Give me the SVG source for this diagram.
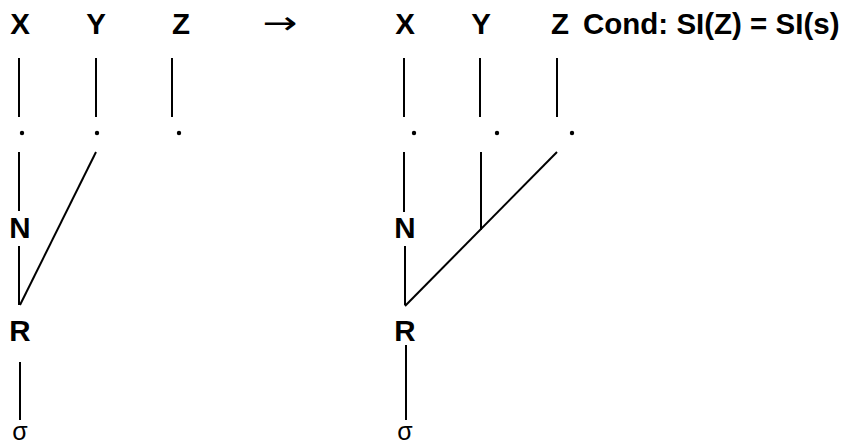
<svg xmlns="http://www.w3.org/2000/svg" width="852" height="446" viewBox="0 0 852 446">
<style>
.lbl{font-family:"Liberation Sans",Arial,sans-serif;font-weight:bold;font-size:29.5px;fill:#000;text-anchor:middle}
.sig{font-family:"Liberation Sans",Arial,sans-serif;font-size:25px;fill:#000;text-anchor:middle}
.arr{font-family:"DejaVu Sans",sans-serif;font-size:32px;fill:#000;text-anchor:middle}
.ln{stroke:#000;stroke-width:2;fill:none}
.dot{fill:#000}
</style>
<rect width="852" height="446" fill="#fff"/>
<g id="left">
  <g id="lX"><text class="lbl" x="20" y="34">X</text></g>
  <g id="lY"><text class="lbl" x="96" y="34">Y</text></g>
  <g id="lZ"><text class="lbl" x="181" y="34">Z</text></g>
  <g id="lN"><text class="lbl" x="20" y="238">N</text></g>
  <g id="lR"><text class="lbl" x="20" y="341">R</text></g>
  <g id="lS"><text class="sig" x="20" y="440">σ</text></g>
  <g id="ldots">
    <circle class="dot" cx="22" cy="133" r="2.2"/>
    <circle class="dot" cx="97" cy="133" r="2.2"/>
    <circle class="dot" cx="179" cy="133" r="2.2"/>
  </g>
</g>
<g id="arrow"><text class="arr" x="0" y="0" transform="translate(280,34) scale(1.3,1)">→</text></g>
<g id="right">
  <g id="rX"><text class="lbl" x="405" y="34">X</text></g>
  <g id="rY"><text class="lbl" x="481" y="34">Y</text></g>
  <g id="rZ"><text class="lbl" x="560" y="34">Z</text></g>
  <g id="cond"><text class="lbl" x="583" y="34" style="text-anchor:start">Cond: SI(Z) = SI(s)</text></g>
  <g id="rN"><text class="lbl" x="405" y="238">N</text></g>
  <g id="rR"><text class="lbl" x="405" y="341">R</text></g>
  <g id="rS"><text class="sig" x="405" y="440">σ</text></g>
  <g id="rdots">
    <circle class="dot" cx="414" cy="133" r="2.2"/>
    <circle class="dot" cx="497" cy="133" r="2.2"/>
    <circle class="dot" cx="572" cy="133" r="2.2"/>
  </g>
</g>
<g id="connectors">
  <line class="ln" x1="19" y1="58" x2="19" y2="117"/>
  <line class="ln" x1="96" y1="58" x2="96" y2="117"/>
  <line class="ln" x1="172" y1="58" x2="172" y2="117"/>
  <line class="ln" x1="19" y1="152" x2="19" y2="211"/>
  <line class="ln" x1="19" y1="246" x2="19" y2="305"/>
  <line class="ln" x1="96" y1="152" x2="20" y2="305"/>
  <line class="ln" x1="20" y1="362" x2="20" y2="420"/>
  <line class="ln" x1="404" y1="58" x2="404" y2="117"/>
  <line class="ln" x1="480" y1="58" x2="480" y2="117"/>
  <line class="ln" x1="557" y1="58" x2="557" y2="117"/>
  <line class="ln" x1="404" y1="152" x2="404" y2="212"/>
  <line class="ln" x1="405" y1="246" x2="405" y2="305"/>
  <line class="ln" x1="481" y1="152" x2="481" y2="230"/>
  <line class="ln" x1="557" y1="152" x2="405" y2="306"/>
  <line class="ln" x1="406" y1="345" x2="406" y2="420"/>
</g>
</svg>
